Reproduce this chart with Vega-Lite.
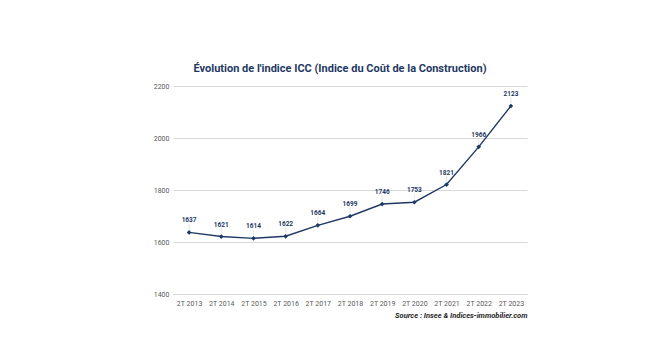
{
  "$schema": "https://vega.github.io/schema/vega-lite/v6.json",
  "autosize": "none",
  "width": 354,
  "height": 208,
  "padding": {"left": 173, "top": 86, "right": 137, "bottom": 70},
  "background": "white",
  "config": {
    "font": "Roboto",
    "view": {"stroke": null}
  },
  "title": {
    "text": "Évolution de l'indice ICC (Indice du Coût de la Construction)",
    "font": "Roboto",
    "fontSize": 11,
    "fontWeight": "bold",
    "color": "#1f3864",
    "anchor": "middle",
    "dx": -10,
    "offset": 8
  },
  "data": {
    "values": [
      {"periode": "2T 2013", "icc": 1637},
      {"periode": "2T 2014", "icc": 1621},
      {"periode": "2T 2015", "icc": 1614},
      {"periode": "2T 2016", "icc": 1622},
      {"periode": "2T 2017", "icc": 1664},
      {"periode": "2T 2018", "icc": 1699},
      {"periode": "2T 2019", "icc": 1746},
      {"periode": "2T 2020", "icc": 1753},
      {"periode": "2T 2021", "icc": 1821},
      {"periode": "2T 2022", "icc": 1966},
      {"periode": "2T 2023", "icc": 2123}
    ]
  },
  "encoding": {
    "x": {
      "field": "periode",
      "type": "ordinal",
      "sort": null,
      "scale": {"type": "point", "padding": 0.5},
      "axis": {
        "title": "Source : Insee & Indices-immobilier.com",
        "titleAnchor": "end",
        "titleAlign": "right",
        "titleFontStyle": "italic",
        "titleFontWeight": "bold",
        "titleFontSize": 7.5,
        "titleColor": "#262626",
        "titlePadding": 5,
        "labelAngle": 0,
        "labelFontSize": 7,
        "labelColor": "#595959",
        "labelPadding": 5,
        "ticks": false,
        "domain": true,
        "domainColor": "#d9d9d9",
        "domainWidth": 1
      }
    },
    "y": {
      "field": "icc",
      "type": "quantitative",
      "scale": {"domain": [1400, 2200], "nice": false, "zero": false},
      "axis": {
        "title": null,
        "values": [1400, 1600, 1800, 2000, 2200],
        "format": "d",
        "labelFontSize": 7,
        "labelColor": "#595959",
        "labelPadding": 4,
        "ticks": false,
        "domain": false,
        "grid": true,
        "gridColor": "#d9d9d9",
        "gridWidth": 1
      }
    }
  },
  "layer": [
    {
      "mark": {"type": "point", "shape": "M0,-0.3L0,-0.85", "size": 400, "stroke": "#d0d0d0", "strokeWidth": 0.6, "filled": false, "opacity": 1}
    },
    {
      "mark": {"type": "line", "color": "#1f3864", "strokeWidth": 1.4}
    },
    {
      "mark": {"type": "point", "shape": "diamond", "size": 22, "filled": true, "color": "#1f3864", "opacity": 1}
    },
    {
      "mark": {"type": "text", "dy": -12, "fontSize": 6.5, "fontWeight": "bold", "color": "#1f3864", "baseline": "middle"},
      "encoding": {"text": {"field": "icc", "type": "quantitative", "format": "d"}}
    }
  ]
}
